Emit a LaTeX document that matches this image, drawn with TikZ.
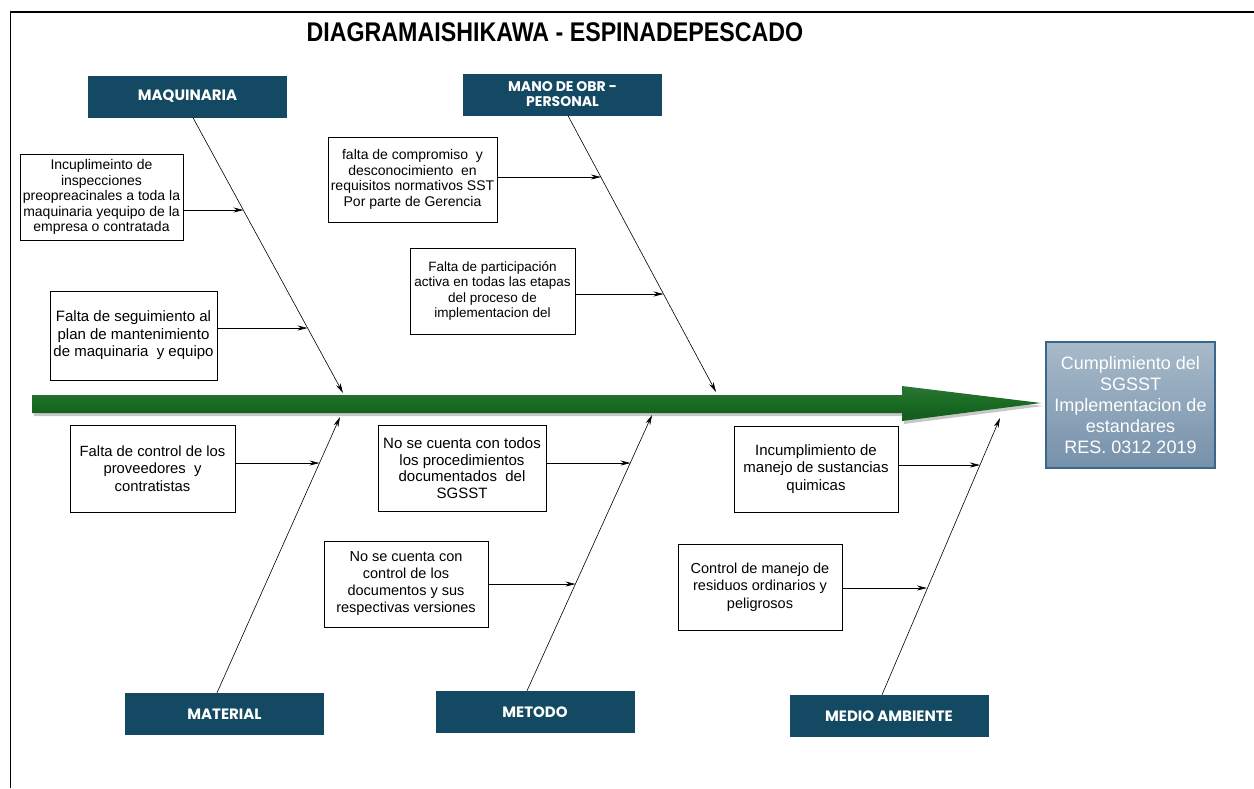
\documentclass[tikz,border=0pt]{standalone}
\usepackage{fontspec}
\setmainfont{Liberation Sans}
\newfontfamily\titlefont[FakeStretch=0.86]{Liberation Sans}
\newfontfamily\catfont{Poppins}
\definecolor{catfill}{RGB}{19, 73, 98}
\definecolor{spinegreen}{RGB}{24, 106, 34}
\definecolor{effecttop}{RGB}{168, 186, 202}
\definecolor{effectbot}{RGB}{118, 145, 170}
\definecolor{effectline}{RGB}{58, 102, 140}
\usetikzlibrary{arrows.meta, calc}
\tikzset{
    category/.style={fill=catfill, text=white, minimum width=199pt,
        minimum height=42pt, align=center, inner sep=0pt,
        font=\catfont\bfseries\fontsize{15}{15}\selectfont},
    cause/.style={draw, thin, align=center, inner sep=0pt,
        font=\fontsize{14}{16}\selectfont},
    bone/.style={semithick, -{Stealth[length=10pt, width=5pt]}},
    twig/.style={semithick, -{Stealth[length=10pt, width=5pt]}},
}

\begin{document}
\begin{tikzpicture}[x=1pt, y=-1pt]
        \useasboundingbox (0,0) rectangle (1254,788);
        \draw[line width=2pt] (10,12) -- (1254,12);
        \draw[semithick] (10,12) -- (10,788);
        \node[font=\titlefont\bfseries\fontsize{27}{30}\selectfont] (title)
            at (555,32) {DIAGRAMAISHIKAWA - ESPINADEPESCADO};

        % spine and head
        \coordinate (tail) at (32,404);
        \coordinate (tip) at (1041,403);
        \fill[black, opacity=.22] ($(tail)+(2,-7)$) -- ++(872,0) -- ++(0,-9)
            -- ($(tip)+(2,3)$) -- ($(tip)+(-137,21)$) -- ++(0,-8)
            -- ($(tail)+(2,12)$) -- cycle;
        \shade[top color=spinegreen!92!white, bottom color=spinegreen!85!black,
            middle color=spinegreen]
            ($(tail)+(0,-9)$) -- ++(870,0) -- ++(0,-9) -- (tip)
            -- ($(tip)+(-139,18)$) -- ++(0,-8) -- ($(tail)+(0,9)$) -- cycle;

        \node[draw=effectline, line width=1.2pt, top color=effecttop,
            bottom color=effectbot, text=white, minimum width=169pt,
            minimum height=126pt, align=center, inner sep=0pt,
            font=\fontsize{18}{21}\selectfont] (effect) at (1130.5,405)
            {Cumplimiento del\\SGSST\\Implementacion de\\estandares\\RES. 0312 2019};

        % categories
        \node[category] (maq) at (187.5,96.5) {MAQUINARIA};
        \node[category, font=\catfont\bfseries\fontsize{14}{15}\selectfont]
            (mano) at (562.5,94.5) {MANO DE OBR -\\PERSONAL};
        \node[category] (mat) at (224.5,714) {MATERIAL};
        \node[category] (met) at (535,712) {METODO};
        \node[category] (med) at (889,716) {MEDIO AMBIENTE};

        \coordinate (maqhead) at (343,393);
        \coordinate (manohead) at (716,392);
        \coordinate (mathead) at (340,417);
        \coordinate (methead) at (652,415);
        \coordinate (medhead) at (1000,418);
        \draw[bone] ([xshift=5.5pt]maq.south) -- (maqhead);
        \draw[bone] ([xshift=5.5pt]mano.south) -- (manohead);
        \draw[bone] ([xshift=-7.5pt]mat.north) -- (mathead);
        \draw[bone] ([xshift=-8pt]met.north) -- (methead);
        \draw[bone] ([xshift=-7pt]med.north) -- (medhead);

        % causes
        \node[cause, minimum width=163pt, minimum height=86pt,
            font=\fontsize{14}{15.5}\selectfont] (c1) at (101.5,197)
            {Incuplimeinto de\\inspecciones\\preopreacinales a toda la\\
            maquinaria yequipo de la\\empresa o contratada};
        \node[cause, minimum width=167pt, minimum height=89pt,
            font=\fontsize{15}{17.5}\selectfont] (c2) at (133.5,335.5)
            {Falta de seguimiento al\\plan de mantenimiento\\
            de maquinaria \ y equipo};
        \node[cause, minimum width=169pt, minimum height=85pt,
            font=\fontsize{14}{15.5}\selectfont] (c3) at (412.5,179.5)
            {falta de compromiso \ y\\desconocimiento \ en\\
            requisitos normativos SST\\Por parte de Gerencia};
        \node[cause, minimum width=165pt, minimum height=86pt,
            font=\fontsize{13.5}{15.5}\selectfont] (c4) at (492.5,291)
            {Falta de participación\\activa en todas las etapas\\
            del proceso de\\implementacion del};
        \node[cause, minimum width=165pt, minimum height=87pt,
            font=\fontsize{14.8}{17.5}\selectfont] (c5) at (152.5,468.5)
            {Falta de control de los\\proveedores \ y\\contratistas};
        \node[cause, minimum width=168pt, minimum height=86pt,
            font=\fontsize{15}{16.5}\selectfont] (c6) at (462,468)
            {No se cuenta con todos\\los procedimientos\\
            documentados \ del\\SGSST};
        \node[cause, minimum width=164pt, minimum height=86pt,
            font=\fontsize{14.5}{17}\selectfont] (c7) at (406,584)
            {No se cuenta con\\control de los\\documentos y sus\\
            respectivas versiones};
        \node[cause, minimum width=164pt, minimum height=86pt,
            font=\fontsize{15}{17.5}\selectfont] (c8) at (816,469)
            {Incumplimiento de\\manejo de sustancias\\quimicas};
        \node[cause, minimum width=164pt, minimum height=86pt,
            font=\fontsize{14.5}{17.5}\selectfont] (c9) at (760,587)
            {Control de manejo de\\residuos ordinarios y\\peligrosos};

        \coordinate (p1) at (243.5,210);
        \coordinate (p2) at (307.5,328);
        \coordinate (p3) at (601,177);
        \coordinate (p4) at (663.5,294);
        \coordinate (p5) at (319.5,463);
        \coordinate (p6) at (630.5,463);
        \coordinate (p7) at (575.5,584);
        \coordinate (p8) at (980,465);
        \coordinate (p9) at (927,588);
        \foreach \i in {1,...,9}
            \draw[twig] (p\i -| c\i.east) -- (p\i);
    \end{tikzpicture}
\end{document}
